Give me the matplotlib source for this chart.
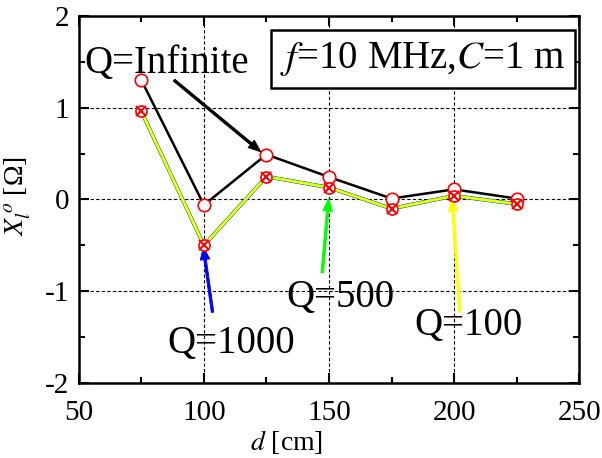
import matplotlib
matplotlib.use('Agg')
import matplotlib.pyplot as plt
from matplotlib.ticker import MultipleLocator

plt.rcParams['font.family'] = ['Liberation Serif', 'DejaVu Serif']
plt.rcParams['mathtext.fontset'] = 'stix'
plt.rcParams['axes.unicode_minus'] = False

d = [75, 100, 125, 150, 175, 200, 225]
x_inf = [1.30, -0.06, 0.49, 0.245, 0.01, 0.11, 0.01]
x_1000 = [0.96, -0.50, 0.25, 0.13, -0.10, 0.04, -0.05]
x_500 = [0.96, -0.50, 0.25, 0.13, -0.10, 0.04, -0.05]
x_100 = [0.96, -0.50, 0.25, 0.13, -0.10, 0.04, -0.05]

fig = plt.figure(figsize=(6.02, 4.58), dpi=100)
ax = fig.add_axes([0.131, 0.164, 0.831, 0.801])

ax.plot(d, x_inf, color='black', lw=1.8, marker='o', ms=9,
        mfc='white', mec='red', mew=1.2, zorder=3)
ax.plot(d, x_1000, color='blue', lw=2.6, zorder=3)
ax.plot(d, x_500, color='lime', lw=2.2, zorder=3)
ax.plot(d, x_100, color='yellow', lw=1.8, zorder=3)
ax.plot(d, x_100, ls='none', marker='o', ms=8, mfc='white', mec='red',
        mew=1.2, zorder=4)
ax.plot(d, x_100, ls='none', marker='x', ms=7, mec='red', mew=1.5, zorder=5)

ax.set_xlim(50, 250)
ax.set_ylim(-2, 2)
ax.xaxis.set_major_locator(MultipleLocator(50))
ax.xaxis.set_minor_locator(MultipleLocator(25))
ax.yaxis.set_major_locator(MultipleLocator(1))
ax.yaxis.set_minor_locator(MultipleLocator(0.5))
ax.tick_params(which='both', direction='in', top=True, right=True,
               labelsize=21, width=1.5)
ax.tick_params(which='major', length=7)
ax.tick_params(which='minor', length=4)
ax.tick_params(axis='x', pad=12)
ax.tick_params(axis='y', pad=7)
for s in ax.spines.values():
    s.set_linewidth(1.8)
ax.grid(True, which='major', ls=(0, (3, 2)), color='black', lw=0.8)

ax.set_xlabel('$d$ [cm]', fontsize=20)
ax.xaxis.set_label_coords(0.416, -0.122)
ax.set_ylabel('$X_l^{\\,o}$ [Ω]', fontsize=20)
ax.yaxis.set_label_coords(-0.092, 0.51)

arrow = 'simple,head_length=0.9,head_width=0.7,tail_width=0.18'

ax.text(52.4, 1.48, 'Q=Infinite', fontsize=28, va='center', ha='left')
ax.annotate('', xy=(123.6, 0.5), xytext=(87.2, 1.32),
            arrowprops=dict(arrowstyle=arrow, color='black', lw=0.6))
ax.annotate('', xy=(99.6, -0.49), xytext=(103.6, -1.26),
            arrowprops=dict(arrowstyle=arrow, color='blue', lw=0.6))
ax.text(110.8, -1.57, 'Q=1000', fontsize=28, ha='center', va='center')
ax.annotate('', xy=(150, 0.04), xytext=(147.2, -0.83),
            arrowprops=dict(arrowstyle=arrow, color='lime', lw=0.6))
ax.text(154.4, -1.07, 'Q=500', fontsize=28, ha='center', va='center')
ax.annotate('', xy=(199.2, 0.04), xytext=(202.4, -1.26),
            arrowprops=dict(arrowstyle=arrow, color='yellow', lw=0.6))
ax.text(205.6, -1.37, 'Q=100', fontsize=28, ha='center', va='center')

ax.text(0.688, 0.883, '$f$=10 MHz,$C$=1 m', transform=ax.transAxes,
        fontsize=28, ha='center', va='center', zorder=6,
        bbox=dict(boxstyle='square,pad=0.25', fc='white', ec='black', lw=1.8))

fig.savefig('out.png', dpi=100)
